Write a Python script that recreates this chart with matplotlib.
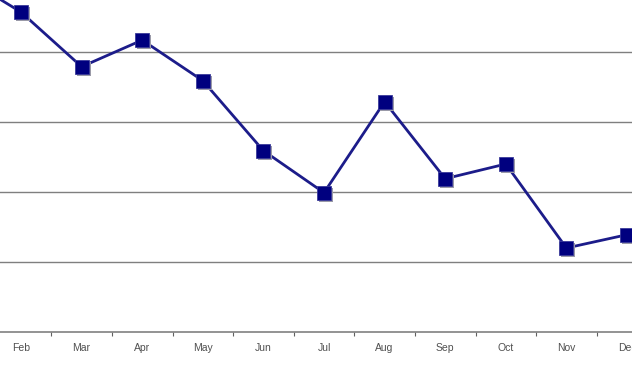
import numpy as np
import matplotlib.pyplot as plt
from matplotlib.transforms import ScaledTranslation

plt.rcParams['font.family'] = ['Liberation Sans', 'DejaVu Sans']

months = ['Jan', 'Feb', 'Mar', 'Apr', 'May', 'Jun', 'Jul', 'Aug', 'Sep', 'Oct', 'Nov', 'Dec']
values = [51.0, 45.7, 37.9, 41.7, 35.9, 25.9, 19.9, 32.9, 21.9, 24.0, 12.0, 13.9]

x = np.arange(len(months))

fig = plt.figure(figsize=(6.32, 3.80), dpi=100)
ax = fig.add_axes([0, 48 / 380, 1, 332 / 380])

# gridlines
for g in [10, 20, 30, 40]:
    ax.axhline(g, color='#7f7f7f', linewidth=1.0, zorder=1)

ax.plot(x, values, color='#1c1c8a', linewidth=2, zorder=3)

# marker shadow
shadow = ax.transData + ScaledTranslation(2 / 100, -2 / 100, fig.dpi_scale_trans)
ax.plot(x, values, 's', color='#9a9aa8', markersize=9.5, markeredgewidth=0,
        transform=shadow, zorder=4)
ax.plot(x, values, 's', markerfacecolor='#00007f', markeredgecolor='#3a3a9a',
        markersize=9.5, markeredgewidth=0.6, zorder=5)

for s in ['top', 'left', 'right']:
    ax.spines[s].set_visible(False)
ax.spines['bottom'].set_color('#808080')
ax.spines['bottom'].set_linewidth(1.2)

ax.set_yticks([])
ax.set_xticks(np.arange(0.5, 12, 1))
ax.set_xticklabels([])
ax.tick_params(axis='x', which='major', length=3, color='#606060', direction='out')
ax.set_xticks(x, minor=True)
ax.set_xticklabels(months, minor=True)
ax.tick_params(axis='x', which='minor', length=0, pad=8, labelsize=7.5,
               labelcolor='#505050')

# limits after ticks so they are not expanded
ax.set_xlim(1 - 21 / 60.6, 1 + (632 - 21) / 60.6)
ax.set_ylim(0, 332 / 7.0)

fig.savefig('out.png', dpi=100)
